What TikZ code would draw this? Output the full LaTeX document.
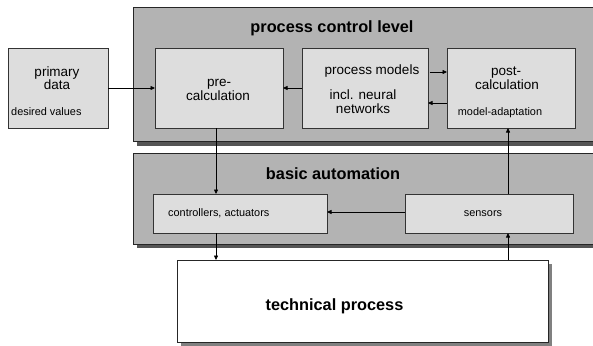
\documentclass[tikz,border=0pt]{standalone}
\usepackage{fontspec}
\setmainfont{Liberation Sans}
\usetikzlibrary{arrows.meta}
\definecolor{bandgray}{HTML}{B3B3B3}
\definecolor{boxgray}{HTML}{DDDDDD}
\definecolor{shadowdark}{HTML}{555555}
\definecolor{shadowmid}{HTML}{808080}
\begin{document}
\begin{tikzpicture}[x=1pt,y=-1pt,
  band/.style={draw=black!85, line width=0.9pt, fill=bandgray, anchor=north west, inner sep=0pt, outer sep=0pt},
  inbox/.style={draw=black!80, line width=0.8pt, fill=boxgray, anchor=north west, inner sep=0pt, outer sep=0pt},
  techbox/.style={draw=black!85, line width=0.9pt, fill=white, anchor=north west, inner sep=0pt, outer sep=0pt},
  arr/.style={-{Triangle[length=4.5pt,width=4pt]}, line width=0.7pt},
  big/.style={font=\fontsize{16.3}{18}\selectfont\bfseries, anchor=base, inner sep=0pt},
  mid/.style={font=\fontsize{13.5}{15}\selectfont, anchor=base, inner sep=0pt},
  small/.style={font=\fontsize{10.9}{12}\selectfont, anchor=base, inner sep=0pt}]
\useasboundingbox (0,0) rectangle (593,345);
% helper coordinates
\coordinate (h72) at (0,72);
\coordinate (h103) at (0,103);
\coordinate (h212) at (0,212);
\coordinate (v216) at (216,0);
\coordinate (v508) at (508,0);
% bands with shadows
\fill[shadowdark] (137,11) rectangle (600,145.5);
\node[band, minimum width=470pt, minimum height=134pt] (pcl) at (133,7) {};
\fill[shadowdark] (137,157) rectangle (600,248);
\node[band, minimum width=470pt, minimum height=91pt] (ba) at (133,153) {};
% technical process
\fill[shadowmid] (181,264) rectangle (552,346);
\node[techbox, minimum width=371pt, minimum height=82pt] (tech) at (177,260) {};
% inner boxes
\node[inbox, minimum width=100pt, minimum height=80pt] (prim) at (8,48) {};
\node[inbox, minimum width=128pt, minimum height=80pt] (pre) at (155,48) {};
\node[inbox, minimum width=126pt, minimum height=80pt] (mod) at (302,48) {};
\node[inbox, minimum width=128pt, minimum height=80pt] (post) at (447,48) {};
\node[inbox, minimum width=174pt, minimum height=39pt] (ctrl) at (153,194) {};
\node[inbox, minimum width=168pt, minimum height=39pt] (sens) at (405,194) {};
% titles
\node[big] (tpcl) at (332,33) {process control level};
\node[big] (tba) at (333,179) {basic automation};
\node[big] (ttech) at (334.5,310) {technical process};
% texts
\node[mid] (tprim1) at (57,76) {primary};
\node[mid] (tprim2) at (57,89.5) {data};
\node[small, anchor=base west] (tprim3) at (11,115) {desired values};
\node[mid] (tpre1) at (219,86) {pre-};
\node[mid] (tpre2) at (218,100.5) {calculation};
\node[mid] (tmod1) at (372,74) {process models};
\node[mid] (tmod2) at (363,99) {incl. neural};
\node[mid] (tmod3) at (363,113) {networks};
\node[mid] (tpost1) at (506,75) {post-};
\node[mid] (tpost2) at (507,89.5) {calculation};
\node[small] (tpost3) at (500,115) {model-adaptation};
\node[small, anchor=base west] (tctrl) at (168,216.5) {controllers, actuators};
\node[small] (tsens) at (483,216) {sensors};
% connectors
\draw[arr] (prim.east) -- (pre.west);
\draw[arr] (mod.west) -- (pre.east);
\draw[arr] ([xshift=1.5pt]mod.east |- h72) -- (post.west |- h72);
\draw[arr] (post.west |- h103) -- (mod.east |- h103);
\draw[arr] (pre.south -| v216) -- (ctrl.north -| v216);
\draw[arr] (ctrl.south -| v216) -- (tech.north -| v216);
\draw[arr] (tech.north -| v508) -- (sens.south -| v508);
\draw[arr] (sens.north -| v508) -- (post.south -| v508);
\draw[arr] (sens.west |- h212) -- (ctrl.east |- h212);
\end{tikzpicture}
\end{document}
